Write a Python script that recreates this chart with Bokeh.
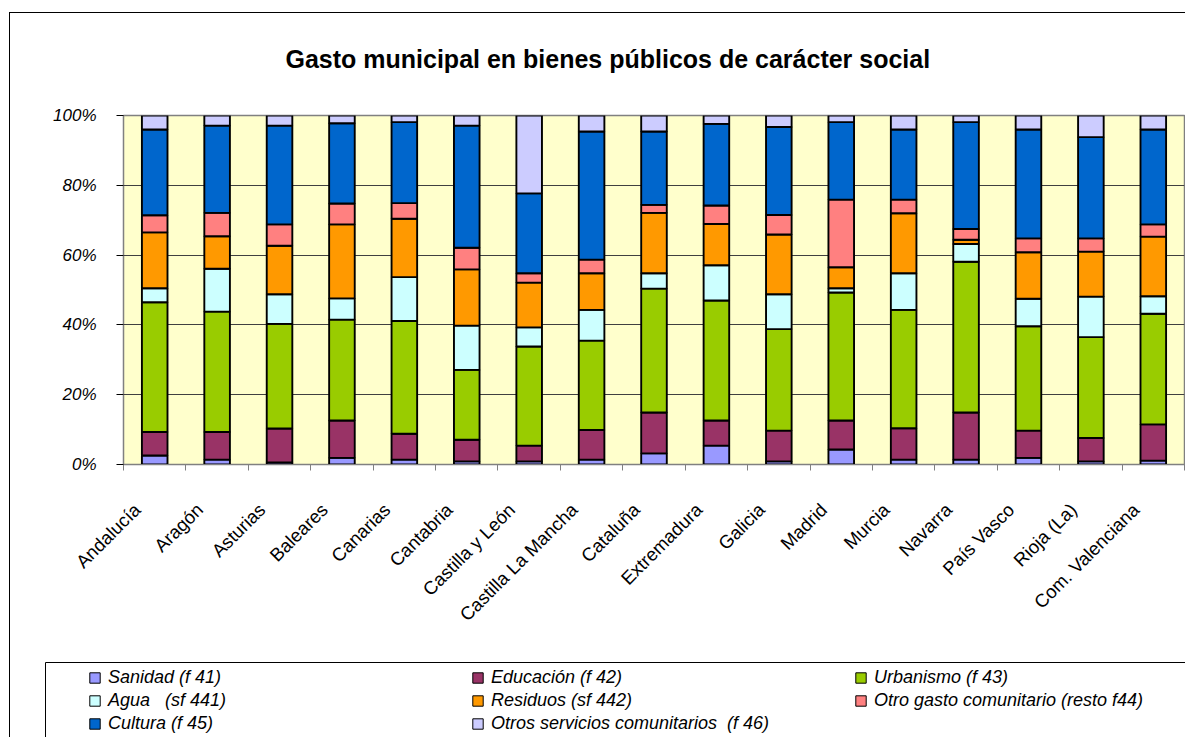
from math import pi
from bokeh.plotting import figure
from bokeh.layouts import column
from bokeh.models import (ColumnDataSource, Range1d, FixedTicker, Legend, LegendItem,
                          PrintfTickFormatter, BoxAnnotation)
from bokeh.embed import file_html
from bokeh.resources import INLINE

regions = ["Andalucía", "Aragón", "Asturias", "Baleares", "Canarias", "Cantabria",
           "Castilla y León", "Castilla La Mancha", "Cataluña", "Extremadura", "Galicia",
           "Madrid", "Murcia", "Navarra", "País Vasco", "Rioja (La)", "Com. Valenciana"]

sanidad    = [2.6, 1.4, 0.6, 1.9, 1.4, 0.9, 0.9, 1.4, 3.2, 5.4, 0.9, 4.3, 1.4, 1.4, 1.9, 0.9, 1.1]
educacion  = [6.7, 7.9, 9.7, 10.7, 7.4, 6.2, 4.5, 8.5, 11.7, 7.2, 8.8, 8.3, 9.0, 13.5, 7.8, 6.7, 10.4]
urbanismo  = [37.2, 34.5, 30.0, 28.9, 32.3, 20.0, 28.4, 25.6, 35.5, 34.4, 29.1, 36.7, 33.9, 43.2, 29.9, 28.9, 31.7]
agua       = [4.0, 12.3, 8.5, 6.1, 12.6, 12.7, 5.5, 8.8, 4.4, 10.1, 10.0, 1.2, 10.5, 5.1, 7.9, 11.6, 5.0]
residuos   = [16.0, 9.3, 13.9, 21.2, 16.7, 16.1, 12.8, 10.5, 17.3, 11.8, 17.1, 6.0, 17.2, 1.2, 13.3, 12.9, 17.1]
otro_gasto = [4.9, 6.7, 6.1, 6.0, 4.5, 6.2, 2.7, 3.9, 2.3, 5.3, 5.6, 19.4, 3.9, 3.1, 4.0, 3.8, 3.5]
cultura    = [24.6, 25.0, 28.3, 23.0, 23.2, 35.0, 22.9, 36.7, 21.0, 23.4, 25.2, 22.2, 20.1, 30.6, 31.2, 29.0, 27.2]
otros      = [4.0, 2.9, 2.9, 2.2, 1.9, 2.9, 22.3, 4.6, 4.6, 2.4, 3.3, 1.9, 4.0, 1.9, 4.0, 6.2, 4.0]

series_keys = ["sanidad", "educacion", "urbanismo", "agua", "residuos", "otro_gasto", "cultura", "otros"]
series_labels = ["Sanidad (f 41)", "Educación (f 42)", "Urbanismo (f 43)", "Agua   (sf 441)",
                 "Residuos (sf 442)", "Otro gasto comunitario (resto f44)", "Cultura (f 45)",
                 "Otros servicios comunitarios  (f 46)"]
series_colors = ["#9999FF", "#993366", "#99CC00", "#CCFFFF", "#FF9900", "#FF8080", "#0066CC", "#CCCCFF"]
y_ticks = [0, 20, 40, 60, 80, 100]

title_text = "Gasto municipal en bienes públicos de carácter social"

FONT = "'Liberation Sans', Arial, sans-serif"
LABEL_SHIFT = 0.28   # category labels sit to the left of the bar centre, as in the original

xpos = [i + 0.5 for i in range(len(regions))]
label_pos = [i + 0.5 - LABEL_SHIFT for i in range(len(regions))]
source = ColumnDataSource(dict(x=xpos, sanidad=sanidad, educacion=educacion, urbanismo=urbanismo,
                               agua=agua, residuos=residuos, otro_gasto=otro_gasto,
                               cultura=cultura, otros=otros))

W = 1185
H_CHART = 650
H_LEG = 87

p = figure(width=W, height=H_CHART, x_range=Range1d(0, len(regions)), y_range=Range1d(0, 100),
           output_backend="svg", toolbar_location=None, frame_align=False,
           min_border_left=123, min_border_right=1, min_border_top=115, min_border_bottom=186,
           background_fill_color="#FFFFCC", border_fill_color="white",
           outline_line_color="#808080", outline_line_width=1.5)

renderers = p.vbar_stack(series_keys, x="x", width=0.41, source=source,
                         fill_color=series_colors, line_color="black", line_width=1.9)

# title
p.title.text = title_text
p.title.align = "left"
p.title.vertical_align = "top"
p.title.offset = 162
p.title.standoff = 82
p.title.text_font = FONT
p.title.text_font_size = "25px"
p.title.text_font_style = "bold"
p.title.text_color = "black"

# x axis
p.xaxis.ticker = FixedTicker(ticks=label_pos, minor_ticks=list(range(len(regions) + 1)))
p.xaxis.major_label_overrides = {xv: name for xv, name in zip(label_pos, regions)}
p.xaxis.major_tick_out = 0
p.xaxis.major_tick_in = 0
p.xaxis.minor_tick_out = 6
p.xaxis.minor_tick_in = 0
p.xaxis.minor_tick_line_color = "#808080"
p.xaxis.axis_line_color = "#808080"
p.xaxis.major_label_orientation = pi / 4
p.xaxis.major_label_standoff = 36
p.xaxis.major_label_text_font = FONT
p.xaxis.major_label_text_font_size = "18.5px"
p.xaxis.major_label_text_font_style = "normal"
p.xaxis.major_label_text_color = "black"

# y axis
p.yaxis.ticker = FixedTicker(ticks=y_ticks, minor_ticks=[])
p.yaxis.formatter = PrintfTickFormatter(format="%d%%")
p.yaxis.major_tick_out = 7
p.yaxis.major_tick_in = 0
p.yaxis.major_tick_line_color = "black"
p.yaxis.axis_line_color = "#808080"
p.yaxis.major_label_standoff = 20
p.yaxis.major_label_text_font = FONT
p.yaxis.major_label_text_font_size = "17px"
p.yaxis.major_label_text_font_style = "italic"
p.yaxis.major_label_text_color = "black"

p.xgrid.visible = False
p.ygrid.ticker = FixedTicker(ticks=y_ticks)
p.ygrid.grid_line_color = "#404040"
p.ygrid.grid_line_width = 1

# legend panel: a separate figure whose frame fills its whole canvas; its own copies of the
# stacked bars fall outside its x range, so only their legend swatches are shown
q = figure(width=W, height=H_LEG, x_range=Range1d(-200, -199), y_range=Range1d(0, 100),
           output_backend="svg", toolbar_location=None, min_border=0, frame_align=False,
           x_axis_type=None, y_axis_type=None, outline_line_color=None,
           background_fill_color="white", border_fill_color="white")
q.xgrid.visible = False
q.ygrid.visible = False

legend_renderers = q.vbar_stack(series_keys, x="x", width=0.41, source=source,
                                fill_color=series_colors, line_color="black", line_width=1)

q.add_layout(BoxAnnotation(left=45, right=W + 100, top=H_LEG - 12, bottom=-100,
                           left_units="screen", right_units="screen",
                           top_units="screen", bottom_units="screen",
                           fill_alpha=0, line_color="black", line_alpha=1, line_width=1))

legend = Legend(items=[LegendItem(label=lab, renderers=[r]) for lab, r in zip(series_labels, legend_renderers)],
                ncols=3, orientation="horizontal", location=(88, 3),
                glyph_width=13, glyph_height=13, label_standoff=7, label_width=361,
                label_height=20, spacing=2, padding=0, margin=0,
                border_line_alpha=0, background_fill_alpha=0,
                label_text_font=FONT, label_text_font_size="18px", label_text_font_style="italic",
                label_text_color="black")
q.add_layout(legend, "center")

# outer chart frame (left and top edges; the right and bottom edges lie outside the window)
frame_css = (":host { position: relative; } "
             ":host::after { content: ''; position: absolute; left: 9px; top: 12px; "
             "right: 0px; bottom: 0px; border-left: 1px solid black; border-top: 1px solid black; "
             "pointer-events: none; }")

layout = column(p, q, spacing=0, stylesheets=[frame_css])

open("out.html", "w").write(file_html(layout, INLINE))
